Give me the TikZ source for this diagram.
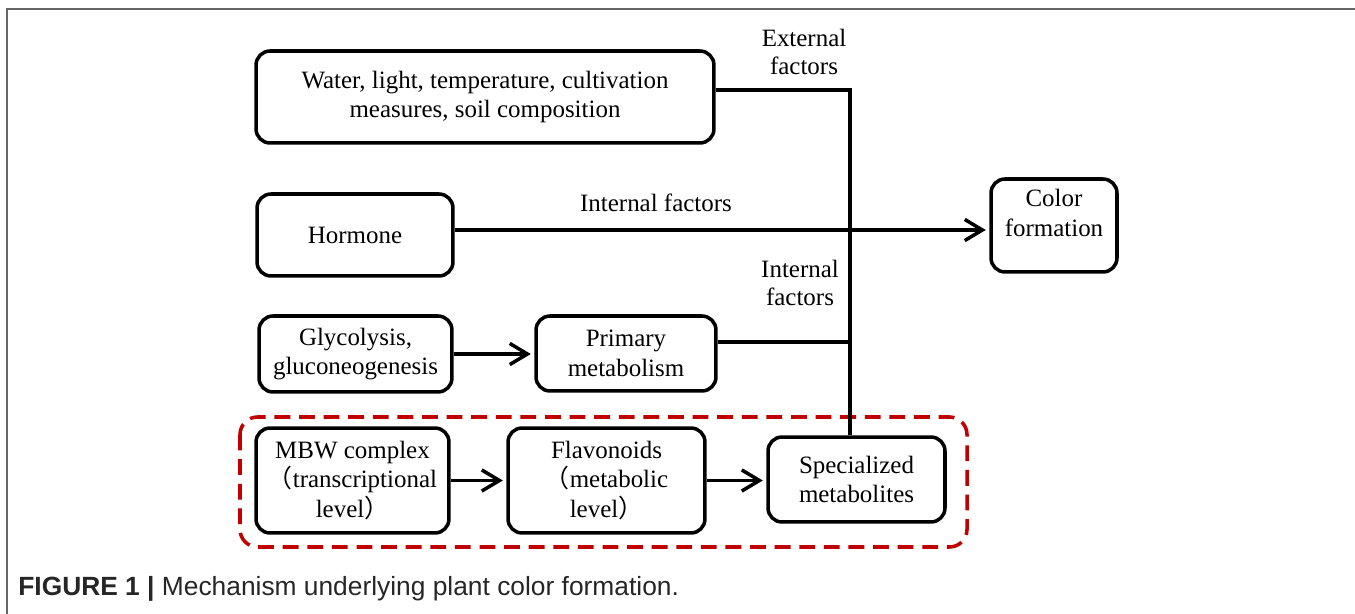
\documentclass[tikz,border=0pt]{standalone}
\usepackage{fontspec}
\setmainfont{Liberation Serif}
\newfontfamily\capfont{Liberation Sans}
\newfontfamily\cjk{Noto Sans CJK SC}
\usetikzlibrary{arrows.meta}
\definecolor{boxred}{RGB}{192,0,0}

\begin{document}
\begin{tikzpicture}[x=0.02cm,y=-0.02cm,
    box/.style={draw,line width=2pt,rounded corners=8pt,align=center,inner sep=2pt,
      font=\fontsize{14.2}{17}\selectfont},
    lbl/.style={align=center,inner sep=0pt,font=\fontsize{14.2}{16}\selectfont},
    link/.style={line width=2pt},
    arr/.style={link,-{Straight Barb[length=10pt,width=12pt]},shorten >=2pt}]
  \useasboundingbox (0,0) rectangle (1355,614);
  \draw[black!60,line width=1pt] (7,614) -- (7,9) -- (1355,9);% frame

  % boxes
  \node[box,minimum width=9.16cm,minimum height=1.84cm] (water) at (485,97)
    {Water, light, temperature, cultivation\\measures, soil composition};
  \node[box,minimum width=3.92cm,minimum height=1.64cm] (horm) at (355,235) {Hormone};
  \node[box,minimum width=2.52cm,minimum height=1.86cm,text depth=14pt] (color) at (1054,225.5)
    {Color\\formation};
  \node[box,minimum width=3.86cm,minimum height=1.52cm] (gly) at (355.5,354)
    {Glycolysis,\\gluconeogenesis};
  \node[box,minimum width=3.6cm,minimum height=1.5cm] (prim) at (626,353.5)
    {Primary\\metabolism};
  \node[box,minimum width=3.86cm,minimum height=2.1cm] (mbw) at (352.5,480.5)
    {MBW complex\\{\cjk （}transcriptional\\level{\cjk ）}};
  \node[box,minimum width=3.94cm,minimum height=2.1cm] (flav) at (606.5,480.5)
    {Flavonoids\\{\cjk （}metabolic\\level{\cjk ）}};
  \node[box,minimum width=3.54cm,minimum height=1.7cm] (spec) at (856.5,479.5)
    {Specialized\\metabolites};
  \draw[boxred,line width=2pt,dash pattern=on 9pt off 5pt,rounded corners=10pt]
    (240,417) rectangle (967,547);

  % labels
  \node[lbl,anchor=base] (ext) at (804,75) {External\\factors};
  \node[lbl,anchor=base] (int1) at (656,212) {Internal factors};
  \node[lbl,anchor=base] (int2) at (800,306) {Internal\\factors};

  % connectors
  \coordinate (jtop) at (850,90);
  \coordinate (jmid) at (850,342);
  \coordinate (hline) at (0,230);
  \draw[link] (water.east |- jtop) -- (jtop) -- (spec.north -| jtop);
  \draw[link] (prim.east |- jmid) -- (jmid);
  \draw[arr] (horm.east |- hline) -- (color.west |- hline);
  \draw[arr] (gly.east) -- (gly.east -| prim.west);
  \draw[arr] (mbw.east) -- (mbw.east -| flav.west);
  \draw[arr] (flav.east) -- (flav.east -| spec.west);

  \node[anchor=base west,inner sep=0pt,text=black!85,font=\capfont\fontsize{15}{17}\selectfont]
    (cap) at (18,595) {\textbf{FIGURE 1 |} Mechanism underlying plant color formation.};
\end{tikzpicture}
\end{document}
